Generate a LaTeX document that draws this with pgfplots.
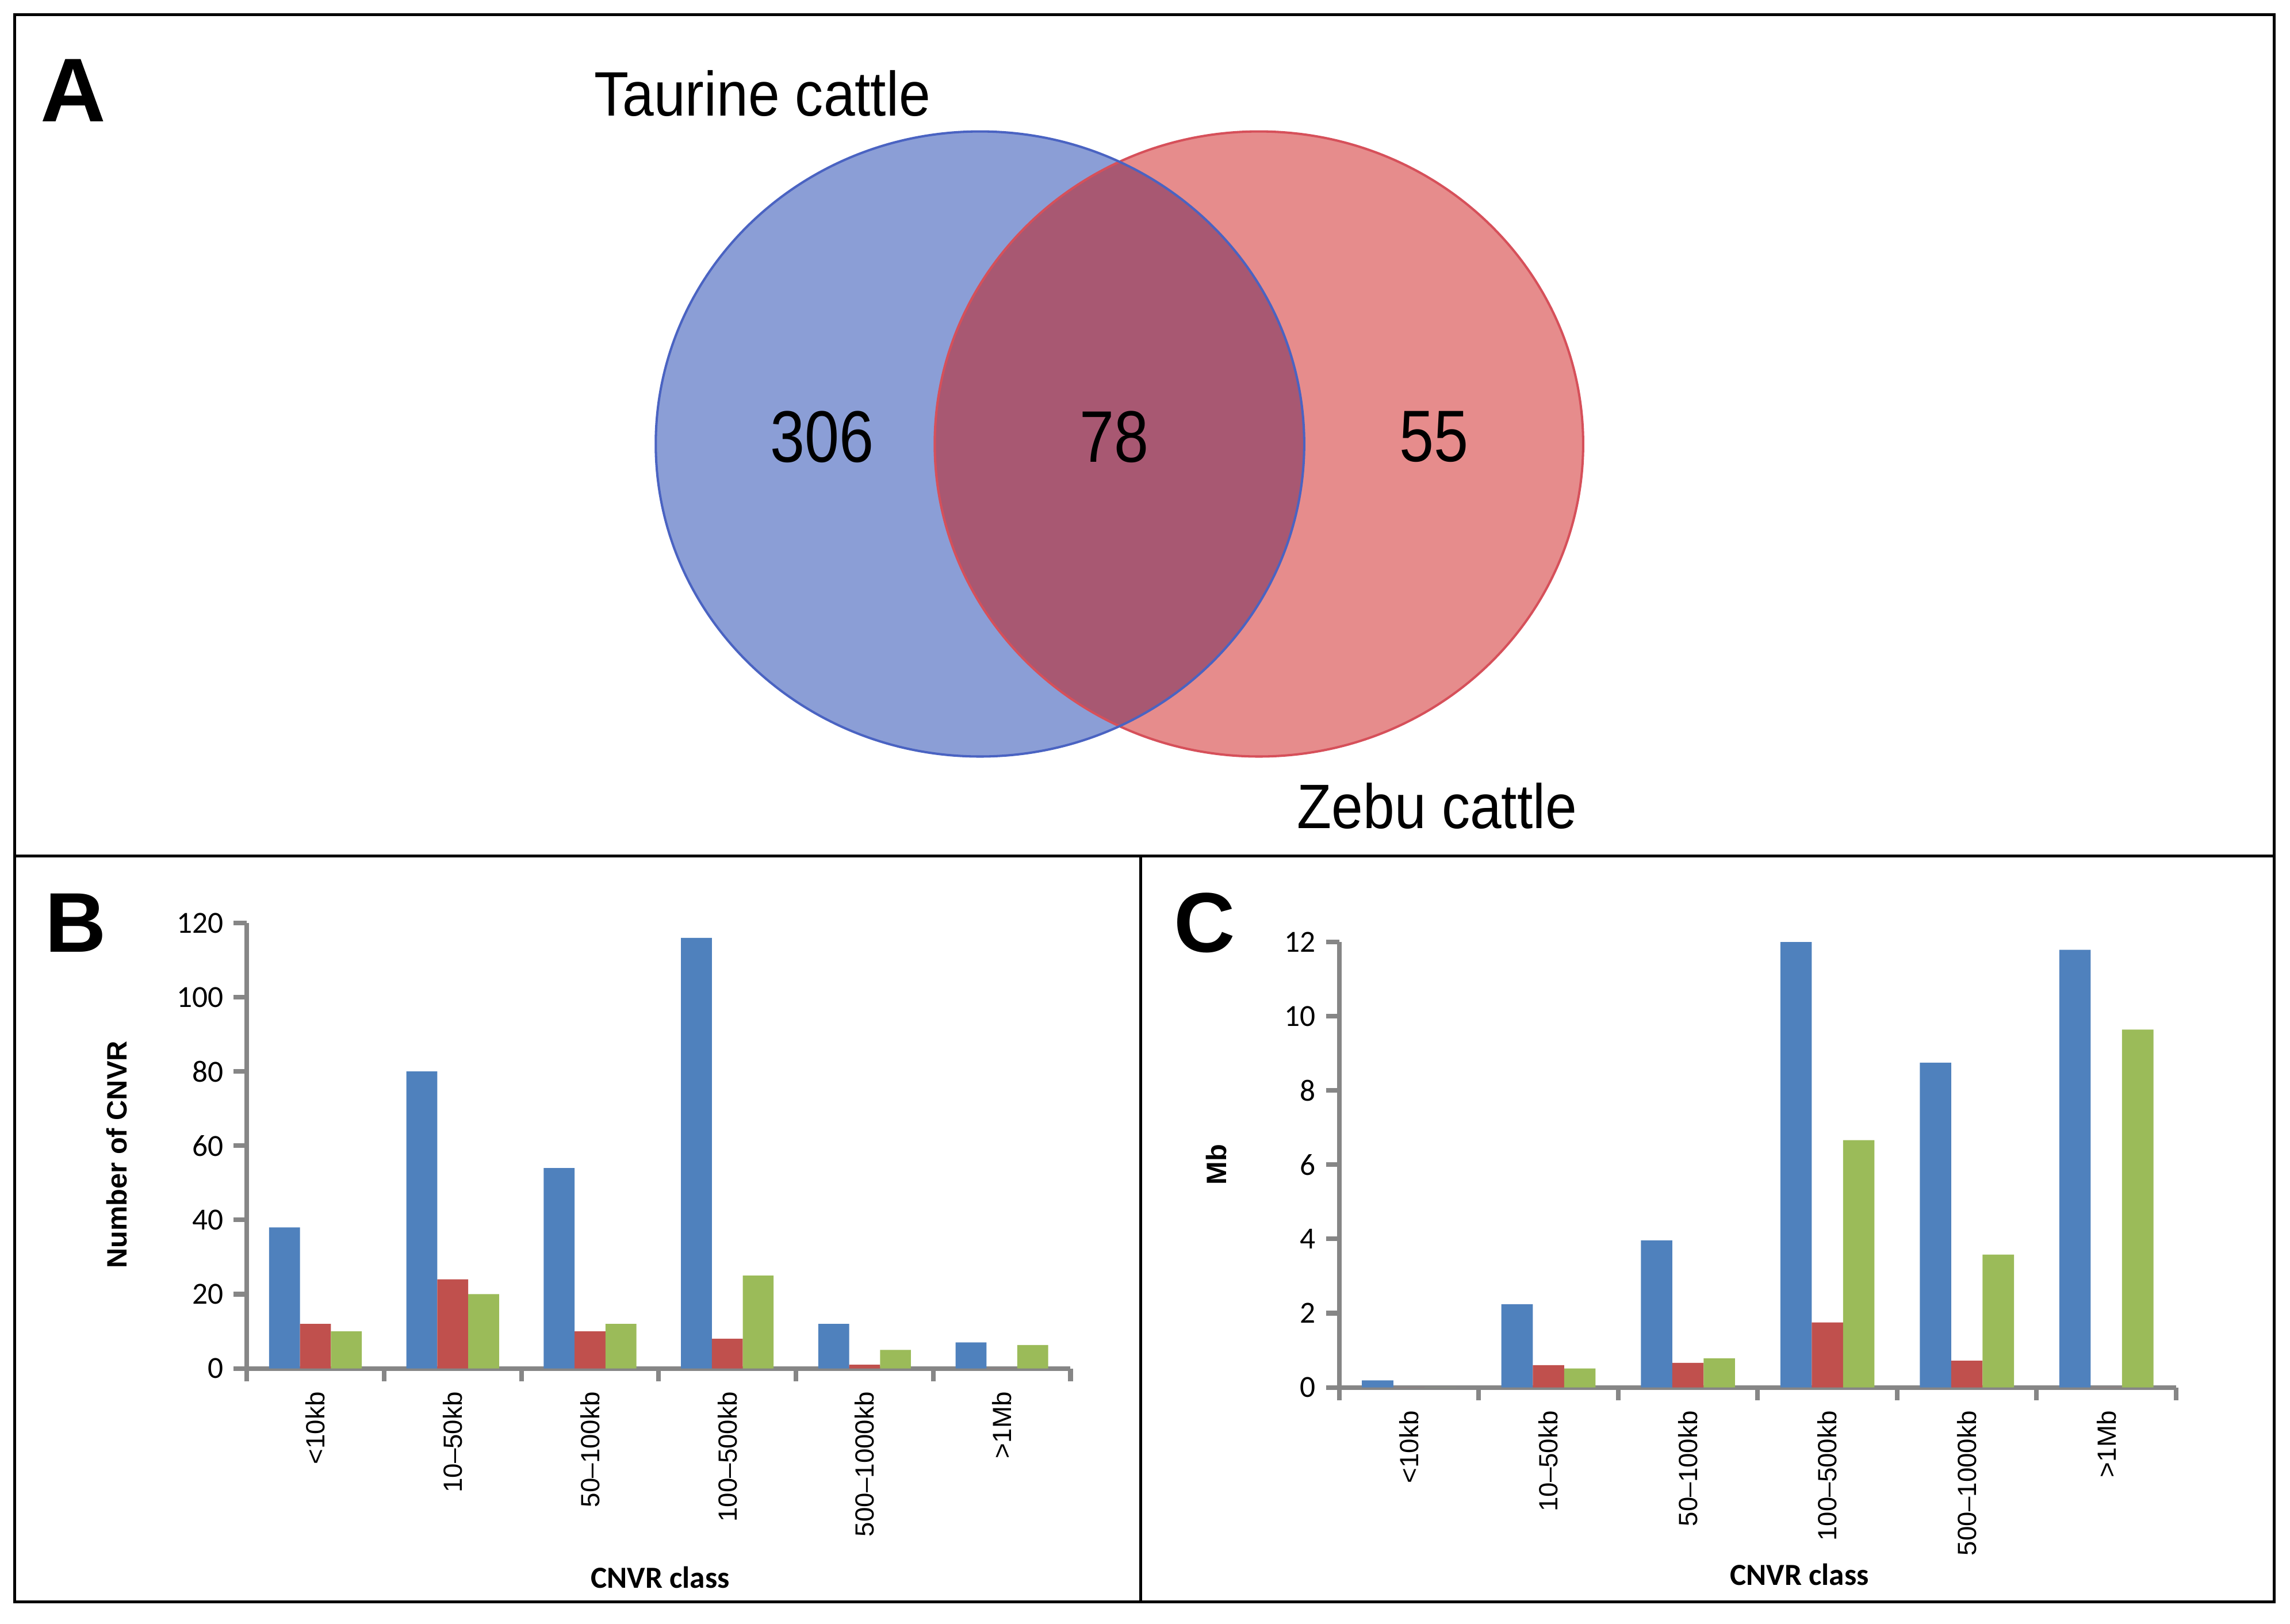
\documentclass[border=0pt]{standalone}
\usepackage{fontspec}
\setmainfont{Liberation Sans}
\newfontfamily\calibri{Carlito}
\usepackage{pgfplots}
\pgfplotsset{compat=1.18}

\definecolor{barblue}{HTML}{4F81BD}
\definecolor{barred}{HTML}{C0504D}
\definecolor{bargreen}{HTML}{9BBB59}
\definecolor{axisgray}{HTML}{868686}
\definecolor{vennblue}{HTML}{8B9ED6}
\definecolor{vennblueline}{HTML}{4A63C2}
\definecolor{vennred}{HTML}{E68C8C}
\definecolor{vennredline}{HTML}{D6505A}
\definecolor{vennboth}{HTML}{A85872}

\pgfplotsset{
  excelbar/.style={
    scale only axis,
    ybar=0pt, bar width=0.225,
    xmin=-0.5, xmax=5.5, ymin=0,
    axis x line=bottom, axis y line=left,
    axis line style={draw=axisgray, line width=1.6pt, -},
    tick align=outside,
    major tick length=4.5pt, minor tick length=4.5pt,
    xtick={0,...,5},
    xticklabels={<10kb,10–50kb,50–100kb,100–500kb,500–1000kb,>1Mb},
    minor xtick={-0.5,0.5,...,5.5},
    major x tick style={draw=none},
    minor x tick style={draw=axisgray, line width=1.6pt},
    ytick style={draw=axisgray, line width=1.6pt},
    x tick label style={rotate=90, anchor=east, font=\fontsize{9}{9}\selectfont},
    y tick label style={font=\calibri\fontsize{10.5}{10.5}\selectfont},
    /pgf/number format/assume math mode=true,
    xlabel style={font=\calibri\bfseries\fontsize{10.5}{10.5}\selectfont},
    ylabel style={font=\bfseries\fontsize{9.6}{9.6}\selectfont},
  }
}

\begin{document}
\begin{tikzpicture}
\path (0pt,0pt) rectangle (784pt,-556pt);

% A: Venn diagram
\begin{axis}[at={(0pt,0pt)}, anchor=north west, scale only axis,
  width=784pt, height=293pt, xmin=0, xmax=1568, ymin=0, ymax=586,
  y dir=reverse, hide axis, clip=false]
  \fill[vennblue] (axis cs:671,304) ellipse[x radius=222, y radius=214];
  \fill[vennred] (axis cs:862,304) ellipse[x radius=222, y radius=214];
  \begin{scope}
    \clip (axis cs:671,304) ellipse[x radius=222, y radius=214];
    \fill[vennboth] (axis cs:862,304) ellipse[x radius=222, y radius=214];
  \end{scope}
  \draw[vennredline, line width=0.8pt] (axis cs:862,304) ellipse[x radius=222, y radius=214];
  \draw[vennblueline, line width=0.8pt] (axis cs:671,304) ellipse[x radius=222, y radius=214];
  \node at (axis cs:563,299) {\scalebox{0.85}[1]{\fontsize{25}{25}\selectfont 306}};
  \node at (axis cs:763,299) {\scalebox{0.85}[1]{\fontsize{25}{25}\selectfont 78}};
  \node at (axis cs:982,299) {\scalebox{0.85}[1]{\fontsize{25}{25}\selectfont 55}};
  \node at (axis cs:522,64) {\scalebox{0.9}[1]{\fontsize{21.5}{21.5}\selectfont Taurine cattle}};
  \node at (axis cs:984,552) {\scalebox{0.9}[1]{\fontsize{21.5}{21.5}\selectfont Zebu cattle}};
\end{axis}

% B: number of CNVR
\begin{axis}[excelbar, at={(84.5pt,-468.5pt)}, anchor=south west,
  width=282pt, height=152.5pt, ymax=120, ytick={0,20,...,120},
  xlabel={CNVR class}, ylabel={Number of CNVR},
  xlabel style={at={(axis description cs:0.502,-0.469)}, anchor=center},
  ylabel style={at={(axis description cs:-0.158,0.48)}, anchor=center}]
  \addplot[fill=barblue, draw=none] coordinates {(0,38) (1,80) (2,54) (3,116) (4,12) (5,7)};
  \addplot[fill=barred, draw=none] coordinates {(0,12) (1,24) (2,10) (3,8) (4,1) (5,0)};
  \addplot[fill=bargreen, draw=none] coordinates {(0,10) (1,20) (2,12) (3,25) (4,5) (5,6.3)};
\end{axis}

% C: Mb
\begin{axis}[excelbar, at={(458.5pt,-475pt)}, anchor=south west,
  width=286.5pt, height=152.5pt, ymax=12, ytick={0,2,...,12},
  xlabel={CNVR class}, ylabel={Mb},
  xlabel style={at={(axis description cs:0.55,-0.42)}, anchor=center},
  ylabel style={at={(axis description cs:-0.147,0.50)}, anchor=center}]
  \addplot[fill=barblue, draw=none] coordinates {(0,0.19) (1,2.24) (2,3.96) (3,12.13) (4,8.75) (5,11.79)};
  \addplot[fill=barred, draw=none] coordinates {(0,0) (1,0.60) (2,0.66) (3,1.75) (4,0.72) (5,0)};
  \addplot[fill=bargreen, draw=none] coordinates {(0,0) (1,0.51) (2,0.78) (3,6.66) (4,3.58) (5,9.64)};
\end{axis}

% frame and panel letters
\begin{scope}[x=0.5pt, y=-0.5pt]
  \draw[line width=1pt] (10,10) rectangle (1557,1097);
  \draw[line width=1pt] (10,586) -- (1557,586);
  \draw[line width=1pt] (781,586) -- (781,1097);
  \node[font=\bfseries\fontsize{31}{31}\selectfont] at (50,62) {A};
  \node[font=\bfseries\fontsize{29}{29}\selectfont] at (52,632) {B};
  \node[font=\bfseries\fontsize{29}{29}\selectfont] at (825,632) {C};
\end{scope}
\end{tikzpicture}
\end{document}
